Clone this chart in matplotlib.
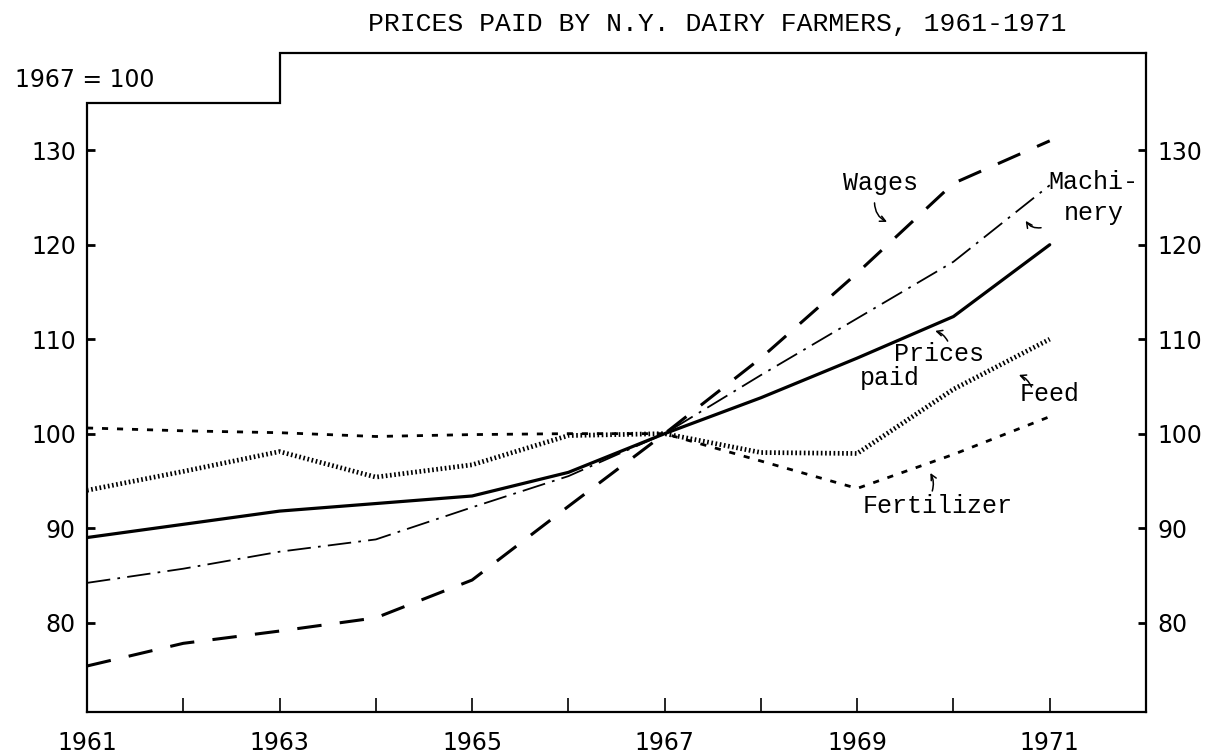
import matplotlib
matplotlib.use("Agg")
import matplotlib.pyplot as plt

# ---- data ----
years = [1961, 1962, 1963, 1964, 1965, 1966, 1967, 1968, 1969, 1970, 1971]
prices_paid = [89.0, 90.4, 91.8, 92.6, 93.4, 95.9, 100.0, 103.8, 108.0, 112.4, 120.0]
wages = [75.4, 77.8, 79.1, 80.5, 84.5, 92.3, 100.0, 108.0, 117.0, 126.5, 131.0]
machinery = [84.2, 85.7, 87.5, 88.8, 92.2, 95.5, 100.0, 106.2, 112.2, 118.2, 126.3]
feed = [94.0, 96.0, 98.1, 95.4, 96.7, 99.8, 100.0, 98.0, 97.9, 104.7, 110.0]
fertilizer = [100.6, 100.3, 100.1, 99.7, 99.9, 100.0, 100.0, 97.1, 94.2, 97.8, 101.8]

x_ticks = list(range(1961, 1972))
x_labels = ["1961", "", "1963", "", "1965", "", "1967", "", "1969", "", "1971"]
y_ticks = [80, 90, 100, 110, 120, 130]
y_labels = ["80", "90", "100", "110", "120", "130"]

title = "PRICES PAID BY N.Y. DAIRY FARMERS, 1961-1971"
base_note = "1967 = 100"

TYPE = "Liberation Mono"
LETTER = "DejaVu Sans"

W, H = 1212, 753
fig = plt.figure(figsize=(W / 100, H / 100), dpi=100)
ax = fig.add_axes([87 / W, 1 - 712 / H, (1146 - 87) / W, (712 - 53) / H])

ymin, ymax = 70.53, 140.3
ax.set_xlim(1961, 1972)
ax.set_ylim(ymin, ymax)

k = "black"
ax.plot(years, prices_paid, color=k, lw=2.3, solid_capstyle="round")
ax.plot(years, wages, color=k, lw=2.2, linestyle=(0, (8, 6)))
ax.plot(years, machinery, color=k, lw=1.3, linestyle=(0, (13, 4, 1.5, 4)))
ax.plot(years, feed, color=k, lw=3.4, linestyle=(0, (0.35, 0.55)), dash_capstyle="butt")
ax.plot(years, fertilizer, color=k, lw=2.0, linestyle=(0, (2.2, 3.2)), dash_capstyle="butt")

# spines: step-shaped top/left frame
for s in ["top", "left"]:
    ax.spines[s].set_visible(False)
ax.spines["right"].set_linewidth(1.6)
ax.spines["bottom"].set_linewidth(1.6)
step_top = 135.0
ax.plot([1961, 1961, 1963, 1963, 1972], [ymin, step_top, step_top, ymax, ymax],
        color=k, lw=1.6, clip_on=False, solid_joinstyle="miter")

ax.set_xticks(x_ticks)
ax.set_xticklabels(x_labels, fontfamily=LETTER, fontsize=17)
ax.set_yticks(y_ticks)
ax.set_yticklabels(y_labels, fontfamily=LETTER, fontsize=17)
ax.tick_params(axis="x", direction="in", length=10, width=1.2, pad=14)
ax.tick_params(axis="y", direction="in", length=6, width=2, pad=8,
               right=True, labelright=True, left=True, labelleft=True)
for lab in ax.get_yticklabels(which="both"):
    lab.set_fontfamily(LETTER)
    lab.set_fontsize(17)

fig.text(717 / W, 1 - 24 / H, title, ha="center", va="center",
         fontfamily=TYPE, fontsize=19)
fig.text(15 / W, 1 - 80 / H, base_note, ha="left", va="center",
         fontfamily=LETTER, fontsize=17)

tk = dict(fontfamily=TYPE, fontsize=18, color=k)
ax.text(1969.24, 126.55, "Wages", ha="center", va="center", **tk)
ax.text(1970.99, 126.66, "Machi-", ha="left", va="center", clip_on=False, **tk)
ax.text(1971.15, 123.37, "nery", ha="left", va="center", clip_on=False, **tk)
ax.text(1969.85, 108.4, "Prices", ha="center", va="center", **tk)
ax.text(1969.34, 105.9, "paid", ha="center", va="center", **tk)
ax.text(1971.0, 104.21, "Feed", ha="center", va="center", **tk)
ax.text(1969.84, 92.35, "Fertilizer", ha="center", va="center", **tk)

ap = dict(arrowstyle="->", color=k, lw=1.1, shrinkA=0, shrinkB=0, mutation_scale=10)
ax.annotate("", xy=(1969.31, 122.42), xytext=(1969.18, 124.43),
            arrowprops=dict(connectionstyle="arc3,rad=0.3", **ap))
ax.annotate("", xy=(1970.75, 122.53), xytext=(1970.91, 121.8),
            arrowprops=dict(connectionstyle="arc3,rad=-0.3", **ap))
ax.annotate("", xy=(1969.81, 110.88), xytext=(1969.94, 109.8),
            arrowprops=dict(connectionstyle="arc3,rad=0.2", **ap))
ax.annotate("", xy=(1970.68, 106.22), xytext=(1970.81, 104.95),
            arrowprops=dict(connectionstyle="arc3,rad=0.2", **ap))
ax.annotate("", xy=(1969.76, 95.84), xytext=(1969.78, 93.93),
            arrowprops=dict(connectionstyle="arc3,rad=0.2", **ap))

fig.savefig("out.png", dpi=100, facecolor="white")
